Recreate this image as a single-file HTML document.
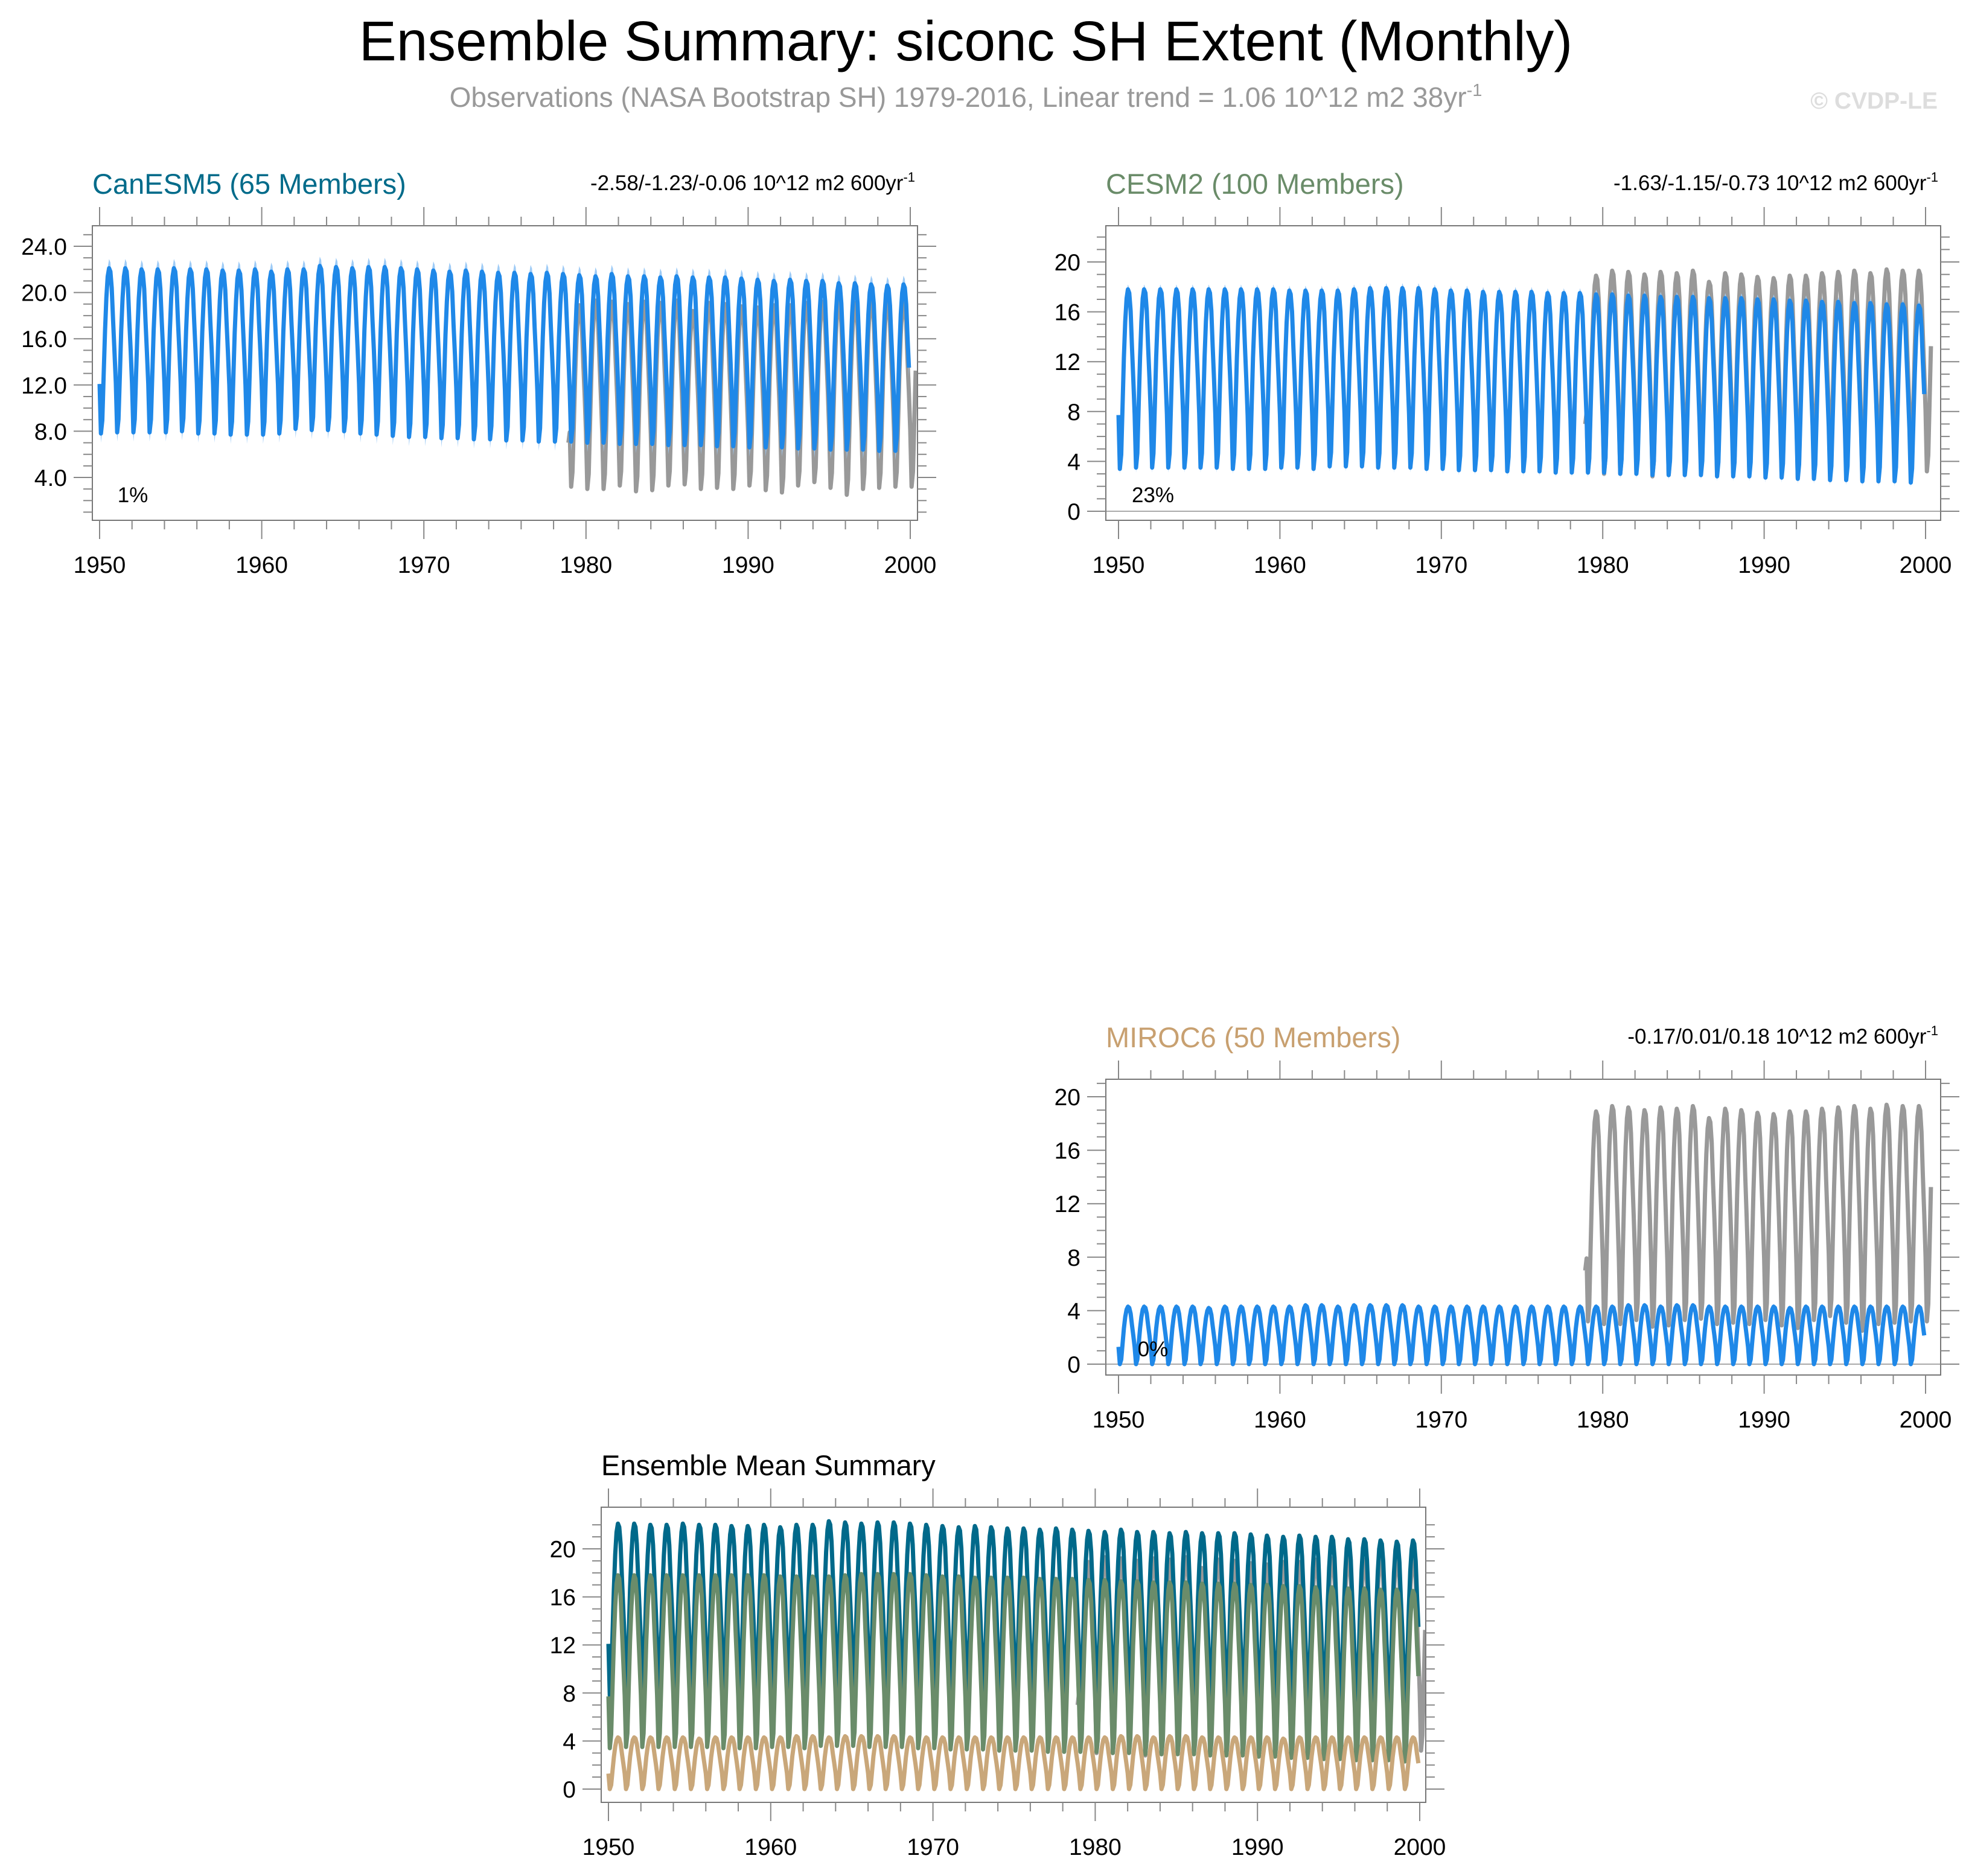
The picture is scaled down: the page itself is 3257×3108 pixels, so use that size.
<!DOCTYPE html>
<html><head><meta charset="utf-8"><style>
html,body{margin:0;padding:0;background:#fff;}
svg{display:block;font-family:"Liberation Sans",sans-serif;}
</style></head><body>
<svg id="fig" width="3257" height="3108" viewBox="0 0 3257 3108" xmlns="http://www.w3.org/2000/svg">
<text x="1600" y="100" font-size="93" text-anchor="middle" fill="#000">Ensemble Summary: siconc SH Extent (Monthly)</text>
<text x="1600" y="177" font-size="46" text-anchor="middle" fill="#999">Observations (NASA Bootstrap SH) 1979-2016, Linear trend = 1.06 10^12 m2 38yr<tspan dy="-18" font-size="29">-1</tspan></text>
<text x="3210" y="180" font-size="39" font-weight="bold" text-anchor="end" fill="#ddd">© CVDP-LE</text>
<g id="plots"></g>
</svg>
<script>
// ---- data ----
const years = [1950,1951,1952,1953,1954,1955,1956,1957,1958,1959,1960,1961,1962,1963,1964,1965,1966,1967,1968,1969,1970,1971,1972,1973,1974,1975,1976,1977,1978,1979,1980,1981,1982,1983,1984,1985,1986,1987,1988,1989,1990,1991,1992,1993,1994,1995,1996,1997,1998,1999];
const monthShape = [0.3,0,0.08,0.35,0.62,0.82,0.95,1.0,0.98,0.88,0.68,0.5];
const canMax = [22.1,22.1,22.0,22.0,22.1,22.0,22.0,21.9,21.9,22.0,21.8,22.0,22.0,22.3,22.2,22.1,22.2,22.2,22.1,22.0,21.9,21.8,21.9,21.8,21.7,21.7,21.6,21.7,21.6,21.5,21.4,21.6,21.4,21.4,21.3,21.4,21.3,21.3,21.3,21.2,21.1,21.0,21.1,21.0,21.0,20.8,20.8,20.7,20.6,20.7];
const canMin = [7.8,7.9,7.9,7.9,7.9,8.0,7.8,7.8,7.7,7.7,7.7,7.8,8.2,8.1,8.1,8.0,7.8,7.7,7.6,7.5,7.5,7.4,7.4,7.3,7.3,7.2,7.2,7.1,7.1,7.1,7.0,7.0,6.9,6.9,6.9,6.8,6.8,6.8,6.7,6.7,6.6,6.6,6.6,6.5,6.5,6.4,6.4,6.4,6.3,6.3];
const cesMax = [17.8,17.8,17.8,17.8,17.8,17.8,17.8,17.8,17.8,17.8,17.7,17.7,17.7,17.7,17.8,17.9,17.9,17.9,17.9,17.8,17.7,17.7,17.6,17.6,17.6,17.6,17.5,17.5,17.5,17.4,17.4,17.3,17.3,17.2,17.2,17.2,17.1,17.1,17.1,17.0,17.0,16.9,16.9,16.8,16.8,16.7,16.7,16.6,16.6,16.5];
const cesMin = [3.4,3.5,3.5,3.5,3.5,3.5,3.5,3.4,3.4,3.4,3.5,3.5,3.4,3.6,3.6,3.6,3.5,3.5,3.5,3.4,3.4,3.3,3.3,3.3,3.2,3.2,3.2,3.1,3.1,3.1,3.1,3.0,3.0,2.9,2.9,2.9,2.9,2.8,2.8,2.8,2.7,2.7,2.6,2.6,2.5,2.5,2.4,2.4,2.4,2.3];
const mirMax = [4.3,4.3,4.3,4.3,4.3,4.2,4.3,4.3,4.3,4.3,4.3,4.4,4.4,4.3,4.4,4.4,4.4,4.4,4.3,4.3,4.3,4.3,4.3,4.3,4.3,4.3,4.3,4.3,4.3,4.3,4.3,4.4,4.4,4.3,4.4,4.4,4.3,4.3,4.3,4.3,4.3,4.2,4.3,4.3,4.3,4.3,4.3,4.3,4.3,4.3];
const mirMin = [0.0,0.0,0.0,0.0,0.0,0.0,0.0,0.0,0.0,0.0,0.0,0.0,0.0,0.0,0.0,0.0,0.0,0.0,0.0,0.0,0.0,0.0,0.0,0.0,0.0,0.0,0.0,0.0,0.0,0.0,0.0,0.0,0.0,0.0,0.0,0.0,0.0,0.0,0.0,0.0,0.0,0.0,0.0,0.0,0.0,0.0,0.0,0.0,0.0,0.0];
const obsYears = [1978,1979,1980,1981,1982,1983,1984,1985,1986,1987,1988,1989,1990,1991,1992,1993,1994,1995,1996,1997,1998,1999,2000];
const obsMax = [8.0,18.9,19.3,19.2,19.0,19.2,19.1,19.3,18.4,19.1,19.0,18.8,18.7,18.9,18.9,19.1,19.2,19.3,19.1,19.4,19.3,19.3,19.4];
const obsMin = [6.0,3.2,3.0,3.0,3.3,2.8,2.9,3.3,3.4,3.0,3.1,3.0,3.3,2.9,2.7,3.3,3.6,3.1,2.5,3.0,3.1,3.2,3.2];
const canSpread = 0.8, cesSpread = 0.4, mirSpread = 0.2;

// ---- helpers ----
const NS = "http://www.w3.org/2000/svg";
const root = document.getElementById('plots');
function mk(tag, attrs, parent){ const e=document.createElementNS(NS,tag); for(const k in attrs) e.setAttribute(k,attrs[k]); (parent||root).appendChild(e); return e; }
function monthly(yrs, mx, mn, startM, endYearFrac){
  const pts=[];
  for(let i=0;i<yrs.length;i++){
    for(let m=0;m<12;m++){
      const t=yrs[i]+m/12;
      if(i===0 && m<startM) continue;
      if(endYearFrac!==undefined && t>endYearFrac) continue;
      pts.push([t, mn[i]+monthShape[m]*(mx[i]-mn[i])]);
    }
  }
  return pts;
}
function panel(cfg){
  const g=mk('g',{});
  
  
  const X=t=>cfg.x0+(t-1950)/50*(cfg.x1-cfg.x0);
  const Y=v=>cfg.y0-(v-cfg.v0)/(cfg.v1-cfg.v0)*(cfg.y0-cfg.y1);
  const clipId='clip-'+cfg.name;
  const cp=mk('clipPath',{id:clipId},g); mk('rect',{x:cfg.fl,y:cfg.ft,width:cfg.fr-cfg.fl,height:cfg.fb-cfg.ft},cp);
  const inner=mk('g',{'clip-path':'url(#'+clipId+')'},g);
  if(cfg.zeroLine){ const z=mk('line',{x1:cfg.fl,x2:cfg.fr,y1:Y(0),y2:Y(0),stroke:'#aaa','stroke-width':2},inner);
      }
  const path=(pts)=>pts.map((p,i)=>(i?'L':'M')+X(p[0]).toFixed(1)+' '+Y(p[1]).toFixed(1)).join('');
  const obs=monthly(obsYears,obsMax,obsMin,11,2000.34);
  const ob=mk('path',{d:path(obs),fill:'none',stroke:'#999',"stroke-width":7,"stroke-linejoin":'round'},inner);
   
  cfg.series.forEach(s=>{
    const pts=monthly(years,s.max,s.min,0);
    if(s.spread){
      const up=pts.map(p=>[p[0],p[1]+s.spread*(0.5+0.5*Math.abs(p[1]-s.min[0])/(s.max[0]-s.min[0]+0.01))]);
      const lo=pts.map(p=>[p[0],p[1]-s.spread]).reverse();
      const sp=mk('path',{d:path(up)+path(lo).replace('M','L')+'Z',fill:'#9ecbf6',stroke:'none'},inner);
       
    }
    const ln=mk('path',{d:path(pts),fill:'none',stroke:s.color,"stroke-width":7,"stroke-linejoin":'round'},inner);
     
  });
  const fr=mk('rect',{x:cfg.fl,y:cfg.ft,width:cfg.fr-cfg.fl,height:cfg.fb-cfg.ft,fill:'none',stroke:'#777','stroke-width':2},g);
   
  for(let yr=1950;yr<=2000;yr+=2){
    const maj=yr%10===0, L=maj?31:15, x=X(yr);
    mk('line',{x1:x,x2:x,y1:cfg.ft,y2:cfg.ft-L,stroke:'#888','stroke-width':2},g);
    mk('line',{x1:x,x2:x,y1:cfg.fb,y2:cfg.fb+L,stroke:'#888','stroke-width':2},g);
    if(maj){ const t=mk('text',{x:x,y:cfg.fb+87,'font-size':39,'text-anchor':'middle'},g); t.textContent=yr;
        }
  }
  for(let v=cfg.vmin; v<=cfg.vmax; v+=cfg.minor){
    const y=Y(v); if(y<cfg.ft-1||y>cfg.fb+1) continue;
    const maj=Math.abs(v/cfg.major-Math.round(v/cfg.major))<1e-6, L=maj?31:15;
    mk('line',{x1:cfg.fl,x2:cfg.fl-L,y1:y,y2:y,stroke:'#888','stroke-width':2},g);
    mk('line',{x1:cfg.fr,x2:cfg.fr+L,y1:y,y2:y,stroke:'#888','stroke-width':2},g);
    if(maj && v>=cfg.labelMin){ const t=mk('text',{x:cfg.fl-42,y:y+14,'font-size':39,'text-anchor':'end'},g); t.textContent=v.toFixed(cfg.dec);
        }
  }
  const ti=mk('text',{x:cfg.fl,y:cfg.ft-53,'font-size':47,fill:cfg.titleColor},g); ti.textContent=cfg.title;
   
  if(cfg.trend){ const tr=mk('text',{x:cfg.fr-4,y:cfg.ft-59,'font-size':35,'text-anchor':'end'},g); tr.textContent=cfg.trend;
    const sup=mk('tspan',{dy:-14,'font-size':22},tr); sup.textContent='-1';
      }
  if(cfg.pct){ const p=mk('text',{x:cfg.pctX,y:cfg.pctY,'font-size':35,'text-anchor':'middle'},g); p.textContent=cfg.pct;
      }
}
panel({name:'canesm5-panel',x0:165,x1:1508,fl:153,fr:1520,ft:374,fb:862,v0:4,v1:24,y0:791,y1:408,vmin:1,vmax:26,minor:1,major:4,labelMin:4,dec:1,
  title:'CanESM5 (65 Members)',titleColor:'#006b8a',trend:'-2.58/-1.23/-0.06 10^12 m2 600yr',pct:'1%',pctX:220,pctY:832,
  series:[{label:'canesm5',max:canMax,min:canMin,color:'#1f88e8',spread:canSpread}]});
panel({name:'cesm2-panel',x0:1853,x1:3190,fl:1832,fr:3215,ft:374,fb:862,v0:0,v1:20,y0:847,y1:434,vmin:0,vmax:23,minor:1,major:4,labelMin:0,dec:0,zeroLine:true,
  title:'CESM2 (100 Members)',titleColor:'#6a8c69',trend:'-1.63/-1.15/-0.73 10^12 m2 600yr',pct:'23%',pctX:1910,pctY:832,
  series:[{label:'cesm2',max:cesMax,min:cesMin,color:'#1f88e8',spread:cesSpread}]});
panel({name:'miroc6-panel',x0:1853,x1:3190,fl:1832,fr:3215,ft:1788,fb:2278,v0:0,v1:20,y0:2260,y1:1817,vmin:0,vmax:21,minor:1,major:4,labelMin:0,dec:0,zeroLine:true,
  title:'MIROC6 (50 Members)',titleColor:'#c8a070',trend:'-0.17/0.01/0.18 10^12 m2 600yr',pct:'0%',pctX:1910,pctY:2247,
  series:[{label:'miroc6',max:mirMax,min:mirMin,color:'#1f88e8',spread:mirSpread}]});
panel({name:'ensemble-mean-panel',x0:1008,x1:2352,fl:996,fr:2362,ft:2497,fb:2986,v0:0,v1:20,y0:2964,y1:2566,vmin:0,vmax:22,minor:1,major:4,labelMin:0,dec:0,
  title:'Ensemble Mean Summary',titleColor:'#000',
  series:[{label:'canesm5',max:canMax,min:canMin,color:'#00698a'},{label:'cesm2',max:cesMax,min:cesMin,color:'#6a8c6a'},{label:'miroc6',max:mirMax,min:mirMin,color:'#c9a77a'}]});
</script>
</body></html>
